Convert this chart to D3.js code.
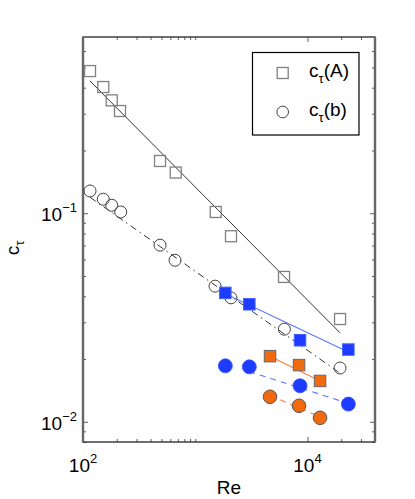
<!DOCTYPE html>
<html><head><meta charset="utf-8">
<script src="https://cdn.jsdelivr.net/npm/d3@7"></script>
<style>body{margin:0;background:#fff}svg{display:block}text{font-family:"Liberation Sans",Arial,Helvetica,sans-serif}</style>
</head><body><svg id="c" width="415" height="499"></svg>
<script>
// ---- data ----
const reA = [115.5,151.6,180.3,213.7,485.8,670,1523,2084,6185,19530];
const cA  = [0.4806,0.4029,0.3478,0.3092,0.1781,0.1567,0.1014,0.0776,0.0495,0.0311];
const reB = [115.5,151.6,180.3,216.8,485.8,660.7,1502,2084,6225,19530];
const cB  = [0.1279,0.1167,0.1092,0.1014,0.0703,0.0595,0.0447,0.0393,0.0278,0.0181];
const reBlue = [1855,3035,8590,23150];
const cBlueSq = [0.0415,0.0366,0.0246,0.0222];
const cBlueCi = [0.01855,0.01834,0.01488,0.01216];
const reOrange = [4642,8416,12950];
const cOrangeSq = [0.02064,0.0187,0.0157];
const cOrangeCi = [0.01318,0.01193,0.01045];
// fit lines (end points)
const fitARe = [115.5,19530], fitAC = [0.4305,0.0267];
const fitBRe = [115.5,19530], fitBC = [0.1193,0.0171];
const fitBlueSqRe = [1855,23150], fitBlueSqC = [0.0411,0.0216];
const fitBlueCiRe = [3035,23150], fitBlueCiC = [0.0174,0.01225];
const fitOrSqRe = [4642,12950], fitOrSqC = [0.0206,0.0157];
const fitOrCiRe = [4642,12950], fitOrCiC = [0.01336,0.01057];
const xMajor = [100,10000], xMinor = [200,300,400,500,600,700,800,900,1000,20000,30000];
const yMajor = [0.01,0.1], yMinor = [0.008,0.009,0.02,0.03,0.04,0.05,0.06,0.07,0.08,0.09,0.2,0.3,0.4,0.5,0.6];
const legendLabels = ["(A)","(b)"];

// ---- layout ----
const svg = d3.select("#c");
const L=83,R=375,T=37,B=442;
const x = d3.scaleLog().domain([100,40000]).range([L,R]);
const y = d3.scaleLog().domain([0.008,0.7]).range([B,T]);
const FS = 19;
const blue="#1e3cff", orange="#f26a10";

function ax(gen, tr, vals, size){
  svg.append("g").attr("transform",tr).call(gen.tickValues(vals).tickSize(size).tickFormat(""))
    .call(g=>{g.select(".domain").remove();g.selectAll("line").attr("stroke","#333").attr("stroke-width",0.8);});
}
ax(d3.axisBottom(x), `translate(0,${B})`, xMajor, -5);
ax(d3.axisBottom(x), `translate(0,${B})`, xMinor, -3);
ax(d3.axisTop(x), `translate(0,${T})`, xMajor, -5);
ax(d3.axisTop(x), `translate(0,${T})`, xMinor, -3);
ax(d3.axisLeft(y), `translate(${L},0)`, yMajor, -5);
ax(d3.axisLeft(y), `translate(${L},0)`, yMinor, -3);
ax(d3.axisRight(y), `translate(${R},0)`, yMajor, -5);
ax(d3.axisRight(y), `translate(${R},0)`, yMinor, -3);

// frame
svg.append("rect").attr("x",L).attr("y",T).attr("width",R-L).attr("height",B-T)
  .attr("fill","none").attr("stroke","#333").attr("stroke-width",1.4);
[L,R].forEach(px=>svg.append("line").attr("x1",px).attr("x2",px).attr("y1",T).attr("y2",B)
  .attr("stroke","#666").attr("stroke-width",2.4));

function pow10(v){return Math.round(Math.log10(v)).toString().replace("-","\u2212");}
xMajor.forEach(v=>{
  const t=svg.append("text").attr("x",x(v)).attr("y",472).attr("text-anchor","middle").attr("font-size",FS).attr("fill","#000");
  t.append("tspan").text("10");
  t.append("tspan").attr("dy",-9).attr("font-size",13).text(pow10(v));
});
yMajor.forEach(v=>{
  const t=svg.append("text").attr("x",77).attr("y",y(v)+8).attr("text-anchor","end").attr("font-size",FS).attr("fill","#000");
  t.append("tspan").text("10");
  t.append("tspan").attr("dy",-9).attr("font-size",13).text(pow10(v));
});
svg.append("text").attr("x",229).attr("y",494).attr("text-anchor","middle").attr("font-size",FS).text("Re");
const yl=svg.append("text").attr("transform","translate(19,248) rotate(-90)").attr("text-anchor","middle").attr("font-size",FS);
yl.append("tspan").text("c");
yl.append("tspan").attr("dy",5).attr("font-size",13).text("\u03c4");

const line = d3.line().x(d=>x(d[0])).y(d=>y(d[1]));
function fit(res,cs,col,w,dash){
  svg.append("path").attr("d",line(d3.zip(res,cs))).attr("fill","none").attr("stroke",col)
    .attr("stroke-width",w).attr("stroke-dasharray",dash||null);
}
fit(fitARe,fitAC,"#333",1,null);
fit(fitBRe,fitBC,"#333",1,"7,4,1.5,4");
fit(fitBlueSqRe,fitBlueSqC,"#5a78ff",1.1,null);
fit(fitBlueCiRe,fitBlueCiC,"#5a78ff",1.1,"6,5");
fit(fitOrSqRe,fitOrSqC,"#ff7a35",1.1,null);
fit(fitOrCiRe,fitOrCiC,"#ff7a35",1.1,"6,5");

function squares(res,cs,s,fill,stroke,sw){
  svg.append("g").selectAll("rect").data(d3.zip(res,cs)).join("rect")
    .attr("x",d=>x(d[0])-s/2).attr("y",d=>y(d[1])-s/2).attr("width",s).attr("height",s)
    .attr("fill",fill).attr("stroke",stroke).attr("stroke-width",sw);
}
function circles(res,cs,r,fill,stroke,sw){
  svg.append("g").selectAll("circle").data(d3.zip(res,cs)).join("circle")
    .attr("cx",d=>x(d[0])).attr("cy",d=>y(d[1])).attr("r",r)
    .attr("fill",fill).attr("stroke",stroke).attr("stroke-width",sw);
}
squares(reA,cA,11,"none","#808080",1.3);
circles(reB,cB,6,"none","#444",1);
squares(reBlue,cBlueSq,11.5,blue,"#4060ff",1);
circles(reBlue,cBlueCi,7,blue,"#3050ff",0.8);
squares(reOrange,cOrangeSq,11.5,orange,"#666",1);
circles(reOrange,cOrangeCi,6.8,orange,"#555",1);

svg.append("rect").attr("x",252.5).attr("y",52.5).attr("width",106.5).attr("height",82.5)
  .attr("fill","#fff").attr("stroke","#000").attr("stroke-width",1.2);
const ly=[73,112];
svg.append("rect").attr("x",282.7-5.5).attr("y",ly[0]-5.5).attr("width",11).attr("height",11)
  .attr("fill","none").attr("stroke","#808080").attr("stroke-width",1.3);
svg.append("circle").attr("cx",282.7).attr("cy",ly[1]).attr("r",5.8).attr("fill","none").attr("stroke","#444");
legendLabels.forEach((lab,i)=>{
  const t=svg.append("text").attr("x",309).attr("y",ly[i]+4).attr("font-size",FS);
  t.append("tspan").text("c");
  t.append("tspan").attr("dy",6).attr("font-size",13).text("\u03c4");
  t.append("tspan").attr("dy",-6).text(lab);
});
</script></body></html>
